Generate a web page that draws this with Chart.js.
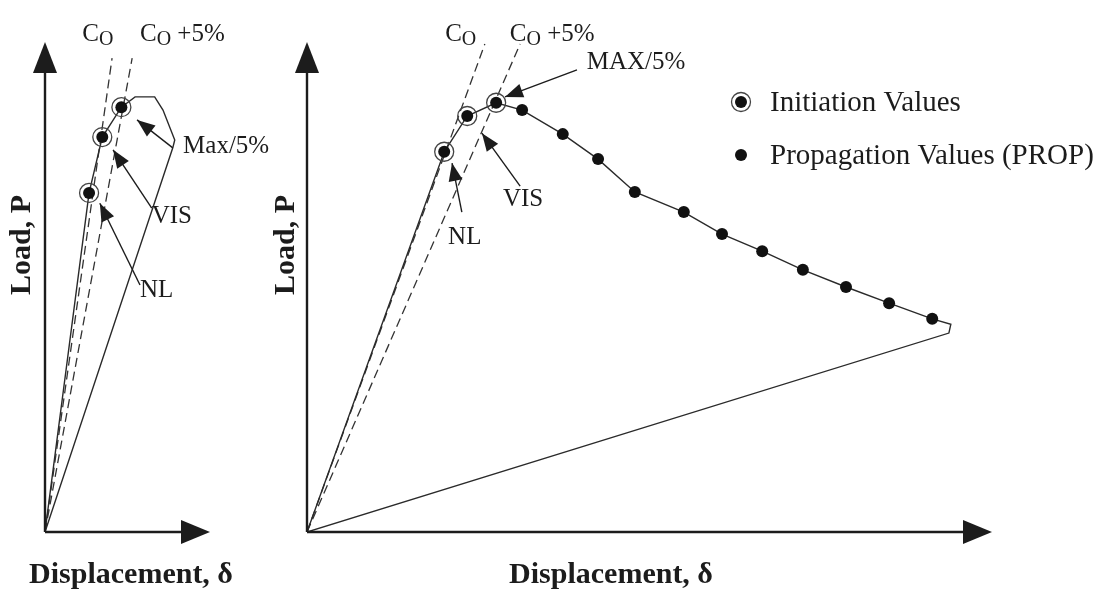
<!DOCTYPE html>
<html>
<head>
<meta charset="utf-8">
<script src="https://cdn.jsdelivr.net/npm/chart.js@4.4.1/dist/chart.umd.min.js"></script>
<style>
  html, body { margin: 0; padding: 0; background: #fff; }
  #wrap { position: relative; width: 1111px; height: 596px; overflow: hidden; background: #fff; }
  canvas { position: absolute; top: 0; }
  #left { left: 0; }
  #right { left: 250px; }
</style>
</head>
<body>
<div id="wrap">
  <canvas id="left" width="280" height="596"></canvas>
  <canvas id="right" width="861" height="596"></canvas>
</div>
<script>
// ---------- DATA (displacement δ, load P, arbitrary units) ----------
// left panel
const leftCoD = [0, 13.7];
const leftCoP = [0, 96.7];
const leftCo5D = [0, 17.8];
const leftCo5P = [0, 96.7];
const leftInitD = [9.0, 11.7, 15.6];          // NL, VIS, Max/5%
const leftInitP = [69.2, 80.6, 86.7];
const leftPeakD = [18.4, 22.4, 24.1, 26.5, 26.1];
const leftPeakP = [88.8, 88.8, 86.1, 80.0, 78.4];

// right panel
const rightCoD = [0, 36.3];
const rightCoP = [0, 99.6];
const rightCo5D = [0, 43.5];
const rightCo5P = [0, 99.6];
const rightInitD = [28.0, 32.7, 38.6];        // NL, VIS, MAX/5%
const rightInitP = [77.6, 84.9, 87.6];
const rightPropD = [43.9, 52.2, 59.4, 66.9, 76.9, 84.7, 92.9, 101.2, 110.0, 118.8, 127.6];
const rightPropP = [86.1, 81.2, 76.1, 69.4, 65.3, 60.8, 57.3, 53.5, 50.0, 46.7, 43.5];
const rightTipD = [131.4, 131.0];
const rightTipP = [42.4, 40.6];

const legendLabels = ["Initiation Values", "Propagation Values (PROP)"];

// ---------- HELPERS ----------
const SERIF = "'Liberation Serif', 'DejaVu Serif', serif";
const INK = "#1c1c1c";

function pts(ds, ps) {
  return ds.map((d, i) => ({ x: d, y: ps[i] }));
}

function loadCurve(initD, initP, restD, restP) {
  return [{ x: 0, y: 0 }].concat(pts(initD, initP), pts(restD, restP), [{ x: 0, y: 0 }]);
}

function lineSet(data, dashed) {
  return {
    data: data,
    showLine: true,
    borderColor: dashed ? "#333" : "#2a2a2a",
    borderWidth: dashed ? 1.3 : 1.4,
    borderDash: dashed ? [9, 5] : [],
    pointRadius: 0,
    tension: 0,
    fill: false
  };
}

function ringSet(data, label) {
  return {
    label: label,
    data: data,
    showLine: false,
    pointStyle: "circle",
    pointRadius: 9.5,
    pointBackgroundColor: "rgba(0,0,0,0)",
    pointBorderColor: "#444",
    pointBorderWidth: 1.3
  };
}

function dotSet(data, label) {
  return {
    label: label,
    data: data,
    showLine: false,
    pointStyle: "circle",
    pointRadius: 6,
    pointBackgroundColor: "#111",
    pointBorderWidth: 0
  };
}

function arrowHead(ctx, x1, y1, x2, y2, len, half) {
  const a = Math.atan2(y2 - y1, x2 - x1);
  const bx = x2 - len * Math.cos(a), by = y2 - len * Math.sin(a);
  ctx.beginPath();
  ctx.moveTo(x2, y2);
  ctx.lineTo(bx + half * Math.sin(a), by - half * Math.cos(a));
  ctx.lineTo(bx - half * Math.sin(a), by + half * Math.cos(a));
  ctx.closePath();
  ctx.fill();
}

function richText(ctx, parts, x, y, size) {
  let cx = x;
  parts.forEach((p) => {
    const sub = p[1] === "sub";
    const fs = sub ? size * 0.8 : size;
    ctx.font = fs + "px " + SERIF;
    ctx.fillText(p[0], cx, sub ? y + size * 0.2 : y);
    cx += ctx.measureText(p[0]).width;
  });
}

// axes with arrows, axis titles, notes and legend
const sketchPlugin = {
  id: "sketch",
  afterDraw(chart, args, o) {
    const ctx = chart.ctx;
    const a = chart.chartArea;
    const sx = chart.scales.x, sy = chart.scales.y;
    ctx.save();
    ctx.fillStyle = INK;
    ctx.strokeStyle = INK;

    // axes
    ctx.lineWidth = 2.4;
    ctx.beginPath();
    ctx.moveTo(a.left, a.bottom);
    ctx.lineTo(a.left, a.top + 25);
    ctx.moveTo(a.left, a.bottom);
    ctx.lineTo(a.right - 25, a.bottom);
    ctx.stroke();
    arrowHead(ctx, a.left, a.bottom, a.left, a.top, 31, 12);
    arrowHead(ctx, a.left, a.bottom, a.right, a.bottom, 29, 12);

    // axis titles
    ctx.font = "bold 30px " + SERIF;
    ctx.textAlign = "center";
    ctx.textBaseline = "middle";
    ctx.fillText("Displacement, \u03b4", o.xTitleX, a.bottom + 43);
    ctx.save();
    ctx.translate(o.yTitleX, o.yTitleY);
    ctx.rotate(-Math.PI / 2);
    ctx.fillText("Load, P", 0, 0);
    ctx.restore();

    // notes with arrows
    ctx.textAlign = "left";
    o.notes.forEach((n) => {
      richText(ctx, n.parts, sx.getPixelForValue(n.at[0]), sy.getPixelForValue(n.at[1]), 25);
      if (n.from) {
        const x1 = sx.getPixelForValue(n.from[0]), y1 = sy.getPixelForValue(n.from[1]);
        const x2 = sx.getPixelForValue(n.to[0]), y2 = sy.getPixelForValue(n.to[1]);
        ctx.lineWidth = 1.4;
        ctx.beginPath();
        ctx.moveTo(x1, y1);
        ctx.lineTo(x2, y2);
        ctx.stroke();
        arrowHead(ctx, x1, y1, x2, y2, 18, 7);
      }
    });

    // legend
    if (o.legend) {
      const L = o.legend;
      L.labels.forEach((label, i) => {
        const y = L.y + i * L.gap;
        if (i === 0) {
          ctx.lineWidth = 1.3;
          ctx.strokeStyle = "#444";
          ctx.beginPath();
          ctx.arc(L.x, y, 9.5, 0, Math.PI * 2);
          ctx.stroke();
        }
        ctx.fillStyle = "#111";
        ctx.beginPath();
        ctx.arc(L.x, y, 6, 0, Math.PI * 2);
        ctx.fill();
        ctx.fillStyle = INK;
        ctx.font = "29px " + SERIF;
        ctx.fillText(label, L.x + 29, y + 1);
      });
    }
    ctx.restore();
  }
};

function makeChart(id, datasets, xMax, pad, sketch) {
  return new Chart(document.getElementById(id), {
    type: "scatter",
    data: { datasets: datasets },
    options: {
      responsive: false,
      animation: false,
      layout: { padding: pad },
      scales: {
        x: { type: "linear", display: false, min: 0, max: xMax },
        y: { type: "linear", display: false, min: 0, max: 100 }
      },
      plugins: {
        legend: { display: false },
        tooltip: { enabled: false },
        sketch: sketch
      }
    },
    plugins: [sketchPlugin]
  });
}

// ---------- LEFT PANEL ----------
makeChart("left", [
  dotSet(pts(leftInitD, leftInitP), legendLabels[0]),
  ringSet(pts(leftInitD, leftInitP), legendLabels[0]),
  lineSet(loadCurve(leftInitD, leftInitP, leftPeakD, leftPeakP), false),
  lineSet(pts(leftCoD, leftCoP), true),
  lineSet(pts(leftCo5D, leftCo5P), true)
], 33.7, { left: 45, right: 70, top: 42, bottom: 64 }, {
  xTitleX: 131, yTitleX: 22, yTitleY: 245,
  notes: [
    { parts: [["C", ""], ["O", "sub"]], at: [7.6, 101.5] },
    { parts: [["C", ""], ["O", "sub"], [" +5%", ""]], at: [19.4, 101.5] },
    { parts: [["Max/5%", ""]], at: [28.2, 78.6], from: [26.1, 78.4], to: [18.8, 84.1] },
    { parts: [["VIS", ""]], at: [21.8, 64.3], from: [21.8, 66.1], to: [13.9, 78.0] },
    { parts: [["NL", ""]], at: [19.4, 49.4], from: [19.4, 50.4], to: [11.2, 67.1] }
  ]
});

// ---------- RIGHT PANEL ----------
makeChart("right", [
  dotSet(pts(rightInitD, rightInitP), legendLabels[0]),
  ringSet(pts(rightInitD, rightInitP), legendLabels[0]),
  dotSet(pts(rightPropD, rightPropP), legendLabels[1]),
  lineSet(loadCurve(rightInitD, rightInitP, rightPropD.concat(rightTipD), rightPropP.concat(rightTipP)), false),
  lineSet(pts(rightCoD, rightCoP), true),
  lineSet(pts(rightCo5D, rightCo5P), true)
], 139.8, { left: 57, right: 119, top: 42, bottom: 64 }, {
  xTitleX: 361, yTitleX: 36, yTitleY: 245,
  notes: [
    { parts: [["C", ""], ["O", "sub"]], at: [28.2, 101.5] },
    { parts: [["C", ""], ["O", "sub"], [" +5%", ""]], at: [41.4, 101.5] },
    { parts: [["MAX/5%", ""]], at: [57.1, 95.9], from: [55.1, 94.3], to: [40.4, 88.8] },
    { parts: [["VIS", ""]], at: [40.0, 67.8], from: [43.5, 70.6], to: [35.7, 81.4] },
    { parts: [["NL", ""]], at: [28.8, 60.2], from: [31.6, 65.3], to: [29.6, 75.3] }
  ],
  legend: { labels: legendLabels, x: 491, y: 102, gap: 53 }
});
</script>
</body>
</html>
